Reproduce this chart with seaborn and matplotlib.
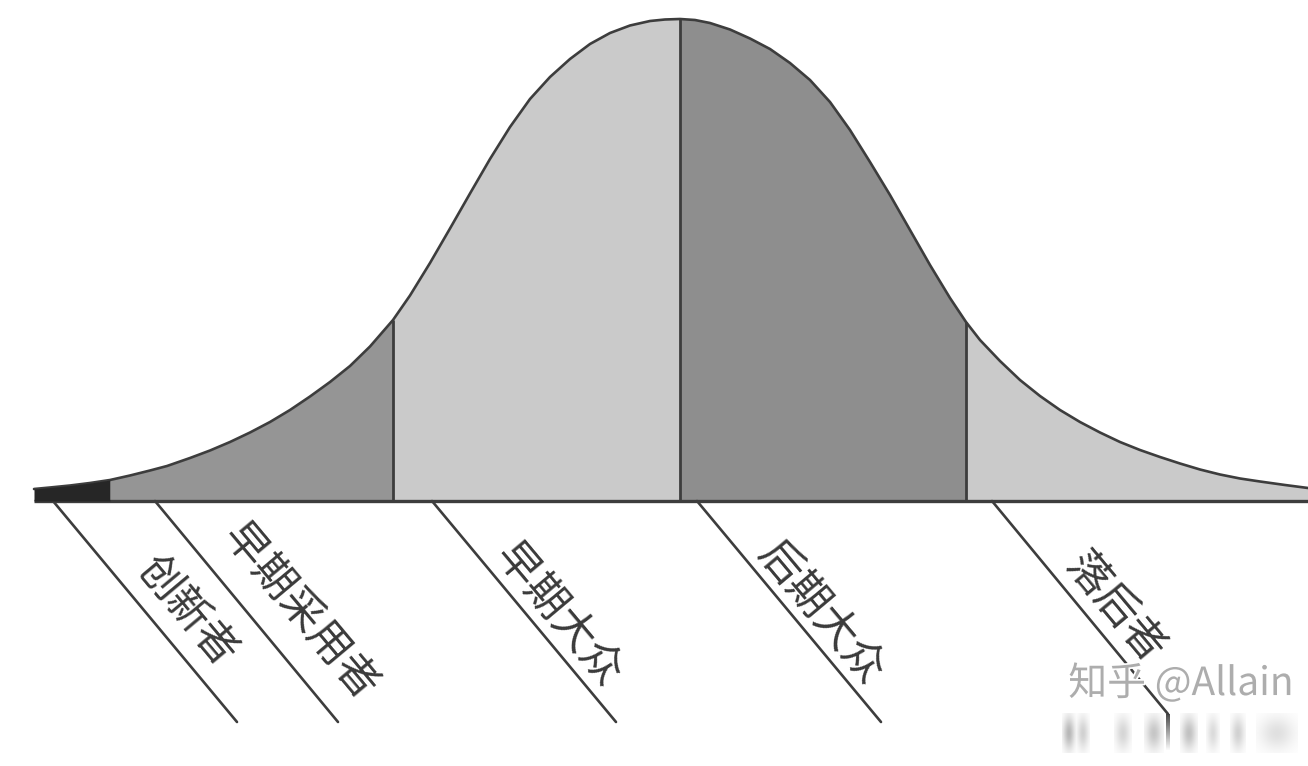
import numpy as np
import pandas as pd
import matplotlib.pyplot as plt
import matplotlib.patheffects as pe
import seaborn as sns

# curve: position along the axis, height above the baseline
curve_x = [34, 50, 70, 90, 110, 130, 150, 167, 190, 210, 230, 250, 270, 290, 310, 330, 350, 370, 393,
           410, 430, 450, 470, 490, 510, 530, 550, 570, 590, 610, 630, 650, 665, 680,
           695, 710, 730, 750, 770, 790, 810, 830, 850, 870, 890, 910, 930, 950, 966,
           980, 1000, 1020, 1040, 1060, 1080, 1100, 1120, 1140, 1160, 1180, 1200, 1220, 1240, 1260, 1285, 1308]
curve_h = [12, 13.5, 15.5, 18, 21, 25.5, 30.5, 35, 43, 50.5, 59, 68.5, 79, 91, 104.5, 119, 135, 154.5, 181,
           205.5, 238, 272.5, 307.5, 342, 374, 402, 424, 442, 457, 468, 475.5, 480, 481.5, 482,
           481, 478, 471.5, 462.5, 452, 438, 421, 399, 371, 339, 306, 271, 236, 203, 179,
           161, 140, 121, 105, 91, 79, 68.5, 59, 51, 44, 37.5, 31.5, 26.5, 22.5, 19.5, 16, 13]

# segment edges and their greys
edges = [34, 110, 393, 680, 966, 1308]
segment_colors = ['#262626', '#959595', '#cacaca', '#8e8e8e', '#cacaca']
dividers = [110, 393, 680, 966]

# labels and the slanted lines under them
labels = ['创新者', '早期采用者', '早期大众', '后期大众', '落后者']
label_x = [187, 299, 558, 821, 1114]
label_h = [-111, -111, -114, -112, -107]
leader_x0 = [53, 155, 432, 697, 992]
leader_x1 = [237, 338, 616, 881, 1168]
leader_h1 = [-221, -221, -221, -221, -213]

# smudges of the blurred line under the watermark: left, right, grey
smudge_x0 = [1062, 1076, 1114, 1144, 1180, 1206, 1230, 1256]
smudge_x1 = [1076, 1090, 1132, 1164, 1198, 1220, 1246, 1298]
smudge_grey = [0.72, 0.82, 0.84, 0.78, 0.76, 0.86, 0.82, 0.88]

INK = '#3d3d3d'

sns.set_theme(style='white')
plt.rcParams['font.family'] = ['Noto Sans CJK SC', 'DejaVu Sans']


def main():
    fig, ax = plt.subplots(figsize=(13.08, 7.66), dpi=100)
    fig.subplots_adjust(left=0, right=1, bottom=0, top=1)

    df = pd.DataFrame({'x': curve_x, 'h': curve_h})

    # shaded segments, the black one sits over the curve line
    for i, color in enumerate(segment_colors):
        seg = df[(df['x'] >= edges[i]) & (df['x'] <= edges[i + 1])]
        ax.fill_between(seg['x'], 0, seg['h'], color=color, linewidth=0, zorder=4 if i == 0 else 1)

    sns.lineplot(data=df, x='x', y='h', color=INK, linewidth=1.9, estimator=None,
                 errorbar=None, ax=ax, zorder=3)

    # dividers and baseline
    heights = np.interp(dividers, curve_x, curve_h)
    ax.vlines(dividers[1:], 0, heights[1:], color=INK, linewidth=2.0, zorder=2)
    ax.hlines(0, edges[0], edges[-1], color=INK, linewidth=2.4, zorder=3)

    # slanted leaders and labels
    for x0, x1, h1 in zip(leader_x0, leader_x1, leader_h1):
        ax.plot([x0, x1], [0, h1], color=INK, linewidth=1.9, zorder=2)
    for text, x, h in zip(labels, label_x, label_h):
        ax.text(x, h, text, fontsize=31, rotation=-50, rotation_mode='anchor', ha='center',
                va='center', color='#3a3a3a', zorder=4)

    # watermark
    ax.text(1181, -183, '知乎 @Allain', fontsize=28, color='#adadad', ha='center', va='center',
            zorder=5, path_effects=[pe.withStroke(linewidth=2.5, foreground='white')])

    # blurred line under the watermark, soft on every side
    yy = np.linspace(-1, 1, 40).reshape(-1, 1)
    xx = np.linspace(-1, 1, 24).reshape(1, -1)
    alpha = np.exp(-(yy * 1.2) ** 2) * np.exp(-(xx * 1.2) ** 2)
    for x0, x1, grey in zip(smudge_x0, smudge_x1, smudge_grey):
        rgba = np.ones((40, 24, 4)) * grey
        rgba[..., 3] = alpha
        ax.imshow(rgba, extent=[x0, x1, -252, -212], aspect='auto', zorder=5, interpolation='bilinear')
    ink_fade = np.ones((40, 1, 4)) * 0.25
    ink_fade[..., 3] = np.linspace(0.95, 0, 40).reshape(-1, 1)
    ax.imshow(ink_fade, extent=[1166, 1170, -250, -213], aspect='auto', zorder=5, interpolation='bilinear')

    ax.set_xlim(0, 1308)
    ax.set_ylim(-265, 501)
    ax.set_xlabel('')
    ax.set_ylabel('')
    ax.set_axis_off()

    fig.savefig('out.png', dpi=100, facecolor='white')
    plt.close(fig)


if __name__ == "__main__":
    main()
